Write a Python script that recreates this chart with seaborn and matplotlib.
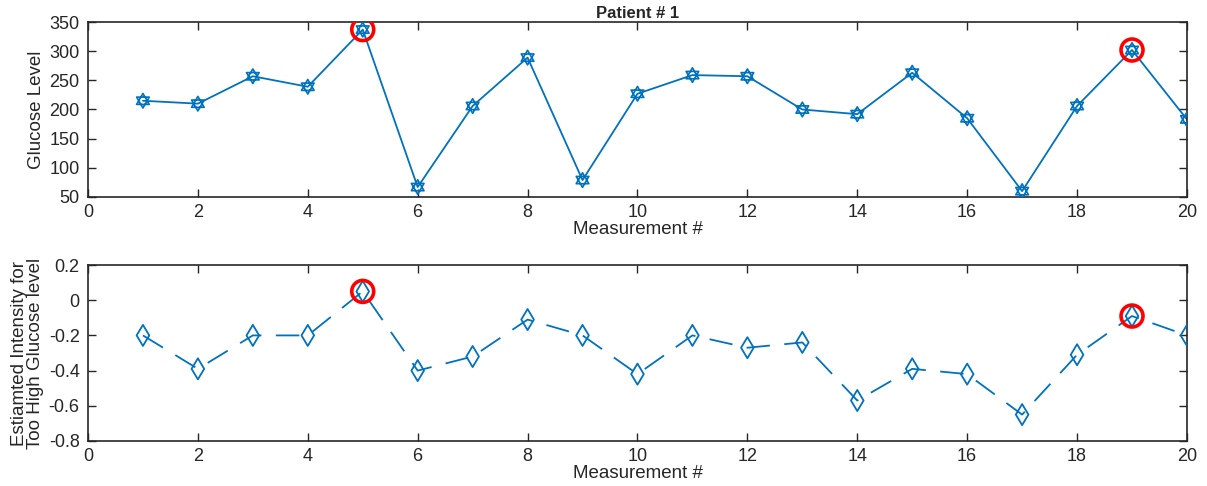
import matplotlib
matplotlib.use("Agg")
import matplotlib.pyplot as plt
from matplotlib.path import Path
import numpy as np
import pandas as pd
import seaborn as sns

# datos
medicion = list(range(1, 21))
glucosa = [215, 210, 257, 239, 337, 67, 206, 289, 79, 227,
           259, 257, 200, 192, 263, 185, 60, 206, 302, 183]
intensidad = [-0.20, -0.39, -0.20, -0.20, 0.05, -0.40, -0.32, -0.11, -0.20, -0.42,
              -0.20, -0.27, -0.24, -0.57, -0.39, -0.42, -0.65, -0.31, -0.09, -0.20]
marcados = [5, 19]

AZUL = "#0072BD"
GRIS = "#262626"

# marcador hexagrama (dos triangulos con el mismo centro)
ang_arriba = np.radians([90, 210, 330])
ang_abajo = np.radians([270, 30, 150])
verts = []
for a in (ang_arriba, ang_abajo):
    pts = list(zip(np.cos(a), np.sin(a)))
    verts += pts + [pts[0]]
codes = [Path.MOVETO, Path.LINETO, Path.LINETO, Path.CLOSEPOLY] * 2
HEXAGRAMA = Path(verts, codes)

sns.set_style("ticks")
plt.rcParams["font.family"] = ["Liberation Sans", "DejaVu Sans"]
plt.rcParams["axes.unicode_minus"] = False
plt.rcParams["xtick.direction"] = "in"
plt.rcParams["ytick.direction"] = "in"

df = pd.DataFrame({"medicion": medicion, "glucosa": glucosa, "intensidad": intensidad})
df_marca = df[df["medicion"].isin(marcados)]

fig = plt.figure(figsize=(12.07, 4.86), dpi=100)
ax1 = fig.add_axes([0.0729, 0.5947, 0.9105, 0.3600])
ax2 = fig.add_axes([0.0729, 0.0926, 0.9105, 0.3621])

# Grafica de glucosa
sns.lineplot(data=df, x="medicion", y="glucosa", ax=ax1, color=AZUL, lw=1.3)
sns.scatterplot(data=df, x="medicion", y="glucosa", ax=ax1, marker=HEXAGRAMA,
                s=110, facecolor="none", edgecolor=AZUL, linewidth=1.2, zorder=3)
sns.scatterplot(data=df_marca, x="medicion", y="glucosa", ax=ax1, marker="o",
                s=250, facecolor="none", edgecolor="red", linewidth=2.6, zorder=4)
ax1.set_title("Patient # 1", fontsize=12, fontweight="bold", pad=3)
ax1.set_ylabel("Glucose Level", fontsize=13.5, labelpad=3)
ax1.set_xlim(0, 20)
ax1.set_ylim(50, 350)
ax1.set_yticks(np.arange(50, 351, 50))

# Grafica de intensidad estimada
sns.lineplot(data=df, x="medicion", y="intensidad", ax=ax2, color=AZUL, lw=1.3,
             dashes=False, linestyle=(0, (13, 8)))
sns.scatterplot(data=df, x="medicion", y="intensidad", ax=ax2, marker="d",
                s=115, facecolor="none", edgecolor=AZUL, linewidth=1.3, zorder=3)
sns.scatterplot(data=df_marca, x="medicion", y="intensidad", ax=ax2, marker="o",
                s=250, facecolor="none", edgecolor="red", linewidth=2.6, zorder=4)
ax2.set_ylabel("Estiamted Intensity for\nToo High Glucose level", fontsize=13.5,
               labelpad=3, linespacing=0.95)
ax2.set_xlim(0, 20)
ax2.set_ylim(-0.8, 0.2)
ax2.set_yticks([-0.8, -0.6, -0.4, -0.2, 0, 0.2])
ax2.set_yticklabels(["-0.8", "-0.6", "-0.4", "-0.2", "0", "0.2"])

for ax in (ax1, ax2):
    ax.set_xticks(np.arange(0, 21, 2))
    ax.set_xlabel("Measurement #", fontsize=13.5, labelpad=0)
    ax.tick_params(labelsize=13, colors=GRIS, top=True, right=True, length=6, width=1)
    ax.tick_params(axis="x", pad=5)
    ax.tick_params(axis="y", pad=6)
    for s in ax.spines.values():
        s.set_visible(True)
        s.set_color(GRIS)
        s.set_linewidth(1.2)
    ax.yaxis.label.set_color(GRIS)
    ax.xaxis.label.set_color(GRIS)
    if ax.get_legend() is not None:
        ax.get_legend().remove()

fig.savefig("out.png", dpi=100)
